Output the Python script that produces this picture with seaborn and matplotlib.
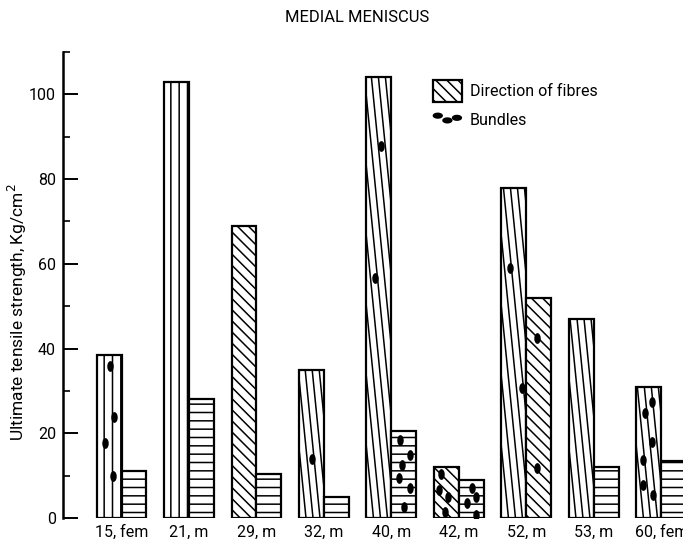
import numpy as np
import pandas as pd
import matplotlib
matplotlib.use("Agg")
import matplotlib.pyplot as plt
import seaborn as sns
from matplotlib.collections import LineCollection
from matplotlib.patches import Patch
from matplotlib.path import Path
from matplotlib.ticker import MultipleLocator

# Ultimate tensile strength (Kg/cm^2) per specimen (age, sex)
subjects = ["15, fem", "21, m", "29, m", "32, m", "40, m", "42, m", "52, m", "53, m", "60, fem"]
fibre_strength = [38.5, 103, 69, 35, 104, 12, 78, 47, 31]
bundle_strength = [11, 28, 10.5, 5, 20.5, 9, 52, 12, 13.5]

# Fibre-direction shading for each bar ("steep" = near-longitudinal oblique fibres)
fibre_hatch = ["||", "||", "\\\\\\", "steep", "steep", "\\\\\\", "steep", "steep", "steep"]
bundle_hatch = ["--", "--", "--", "--", "--", "--", "\\\\\\", "--", "--"]

# Cross-sectioned bundles seen in the specimens: subject index, offset from group centre, height
dot_group = [0, 0, 0, 0, 3, 4, 4, 4, 4, 4, 4, 4, 4,
             5, 5, 5, 5, 5, 5, 5, 5, 6, 6, 6, 6, 8, 8, 8, 8, 8, 8]
dot_dx = [-0.17, -0.11, -0.24, -0.13, -0.18, -0.15, -0.25, 0.13, 0.28, 0.16, 0.11, 0.28, 0.18,
          -0.26, -0.29, -0.16, -0.21, 0.20, 0.26, 0.12, 0.26, -0.25, -0.06, 0.15, 0.15,
          -0.14, -0.24, -0.14, -0.27, -0.27, -0.12]
dot_height = [35.8, 23.9, 17.8, 10.0, 13.9, 87.7, 56.6, 18.4, 14.9, 12.5, 9.4, 7.1, 2.7,
              10.5, 6.6, 5.0, 1.5, 7.0, 5.0, 3.6, 0.8, 58.9, 30.7, 42.5, 11.8,
              27.4, 24.8, 18.0, 13.7, 7.8, 5.4]

sns.set_theme(style="white")
plt.rcParams["font.family"] = ["Liberation Sans Narrow", "Roboto", "DejaVu Sans"]
plt.rcParams.update({
    "text.color": "black", "axes.labelcolor": "black",
    "xtick.color": "black", "ytick.color": "black",
    "hatch.linewidth": 1.1, "hatch.color": "black",
})

fig = plt.figure(figsize=(6.83, 5.42), dpi=100)
ax = fig.add_axes([63 / 683, 24 / 542, 1 - 63 / 683, 466 / 542])

df = pd.DataFrame({
    "subject": subjects * 2,
    "measure": ["Direction of fibres"] * len(subjects) + ["Bundles"] * len(subjects),
    "strength": fibre_strength + bundle_strength,
})
sns.barplot(data=df, x="subject", y="strength", hue="measure",
            palette=["white", "white"], edgecolor="black", linewidth=1.6,
            width=0.74, gap=0, errorbar=None, legend=False, ax=ax)

ax.set_xlim(-0.867, 8.32)
ax.set_ylim(0, 110)
ax.autoscale(False)


def steep_hatch(patch, spacing_px=7.0, lean=0.1):
    """Oblique lines, nearly parallel to the bar's long axis, clipped to the bar."""
    x0, w, h = patch.get_x(), patch.get_width(), patch.get_height()
    p0 = ax.transData.transform((0, 0))
    p1 = ax.transData.transform((1, 1))
    sx, sy = p1 - p0
    drift = lean * h * sy / sx
    step = spacing_px / sx
    starts = np.arange(x0 - drift - step, x0 + w + step, step)
    segs = [[(s, h), (s + drift, 0)] for s in starts]
    lc = LineCollection(segs, colors="black", linewidths=1.1, zorder=2.5)
    ax.add_collection(lc, autolim=False)
    lc.set_clip_path(patch.get_path(), patch.get_transform())


for container, hatches in zip(ax.containers, [fibre_hatch, bundle_hatch]):
    for patch, hatch in zip(container, hatches):
        if hatch == "steep":
            steep_hatch(patch)
        else:
            patch.set_hatch(hatch)

# Bundle markers (upright ellipses)
t = np.linspace(0, 2 * np.pi, 40)
upright = Path(np.column_stack([0.6 * np.cos(t), np.sin(t)]))
flat = Path(np.column_stack([np.cos(t), 0.6 * np.sin(t)]))
ax.scatter(np.array(dot_group) + np.array(dot_dx), dot_height, marker=upright,
           s=60, color="black", linewidths=0, zorder=4)

# Axes styling
for side in ["top", "right", "bottom"]:
    ax.spines[side].set_visible(False)
ax.spines["left"].set_linewidth(1.8)
ax.spines["left"].set_color("black")
ax.yaxis.set_major_locator(MultipleLocator(20))
ax.yaxis.set_minor_locator(MultipleLocator(10))
ax.tick_params(axis="y", which="major", direction="in", length=11, width=1.4,
               labelsize=11.5, pad=5, left=True)
ax.tick_params(axis="y", which="minor", direction="in", length=5, width=1.2, left=True)
ax.tick_params(axis="x", length=0, labelsize=11.5, pad=5)
ax.set_xlabel("")
ax.set_ylabel("")

fig.text(17 / 683, 1 - 312 / 542, "Ultimate tensile strength, Kg/cm$^2$",
         rotation=90, ha="center", va="center", fontsize=12.5)
fig.text(357 / 683, 1 - 18 / 542, "MEDIAL MENISCUS", ha="center", va="center",
         fontsize=12)

# Legend
fibre_handle = Patch(facecolor="white", edgecolor="black", hatch="\\\\\\", linewidth=1.6)
bundle_handle = ax.scatter([], [], marker=flat, s=55, color="black", linewidths=0)
ax.legend([fibre_handle, bundle_handle], ["Direction of fibres", "Bundles"],
          loc="upper left", bbox_to_anchor=(433 / 683, 1 - 80 / 542),
          bbox_transform=fig.transFigure, frameon=False, borderpad=0, borderaxespad=0,
          handlelength=1.8, handleheight=1.7, handletextpad=0.5, labelspacing=0.45,
          scatterpoints=3, scatteryoffsets=[0.42, 0.2, 0.32], fontsize=11.5)

fig.savefig("out.png", dpi=100)
